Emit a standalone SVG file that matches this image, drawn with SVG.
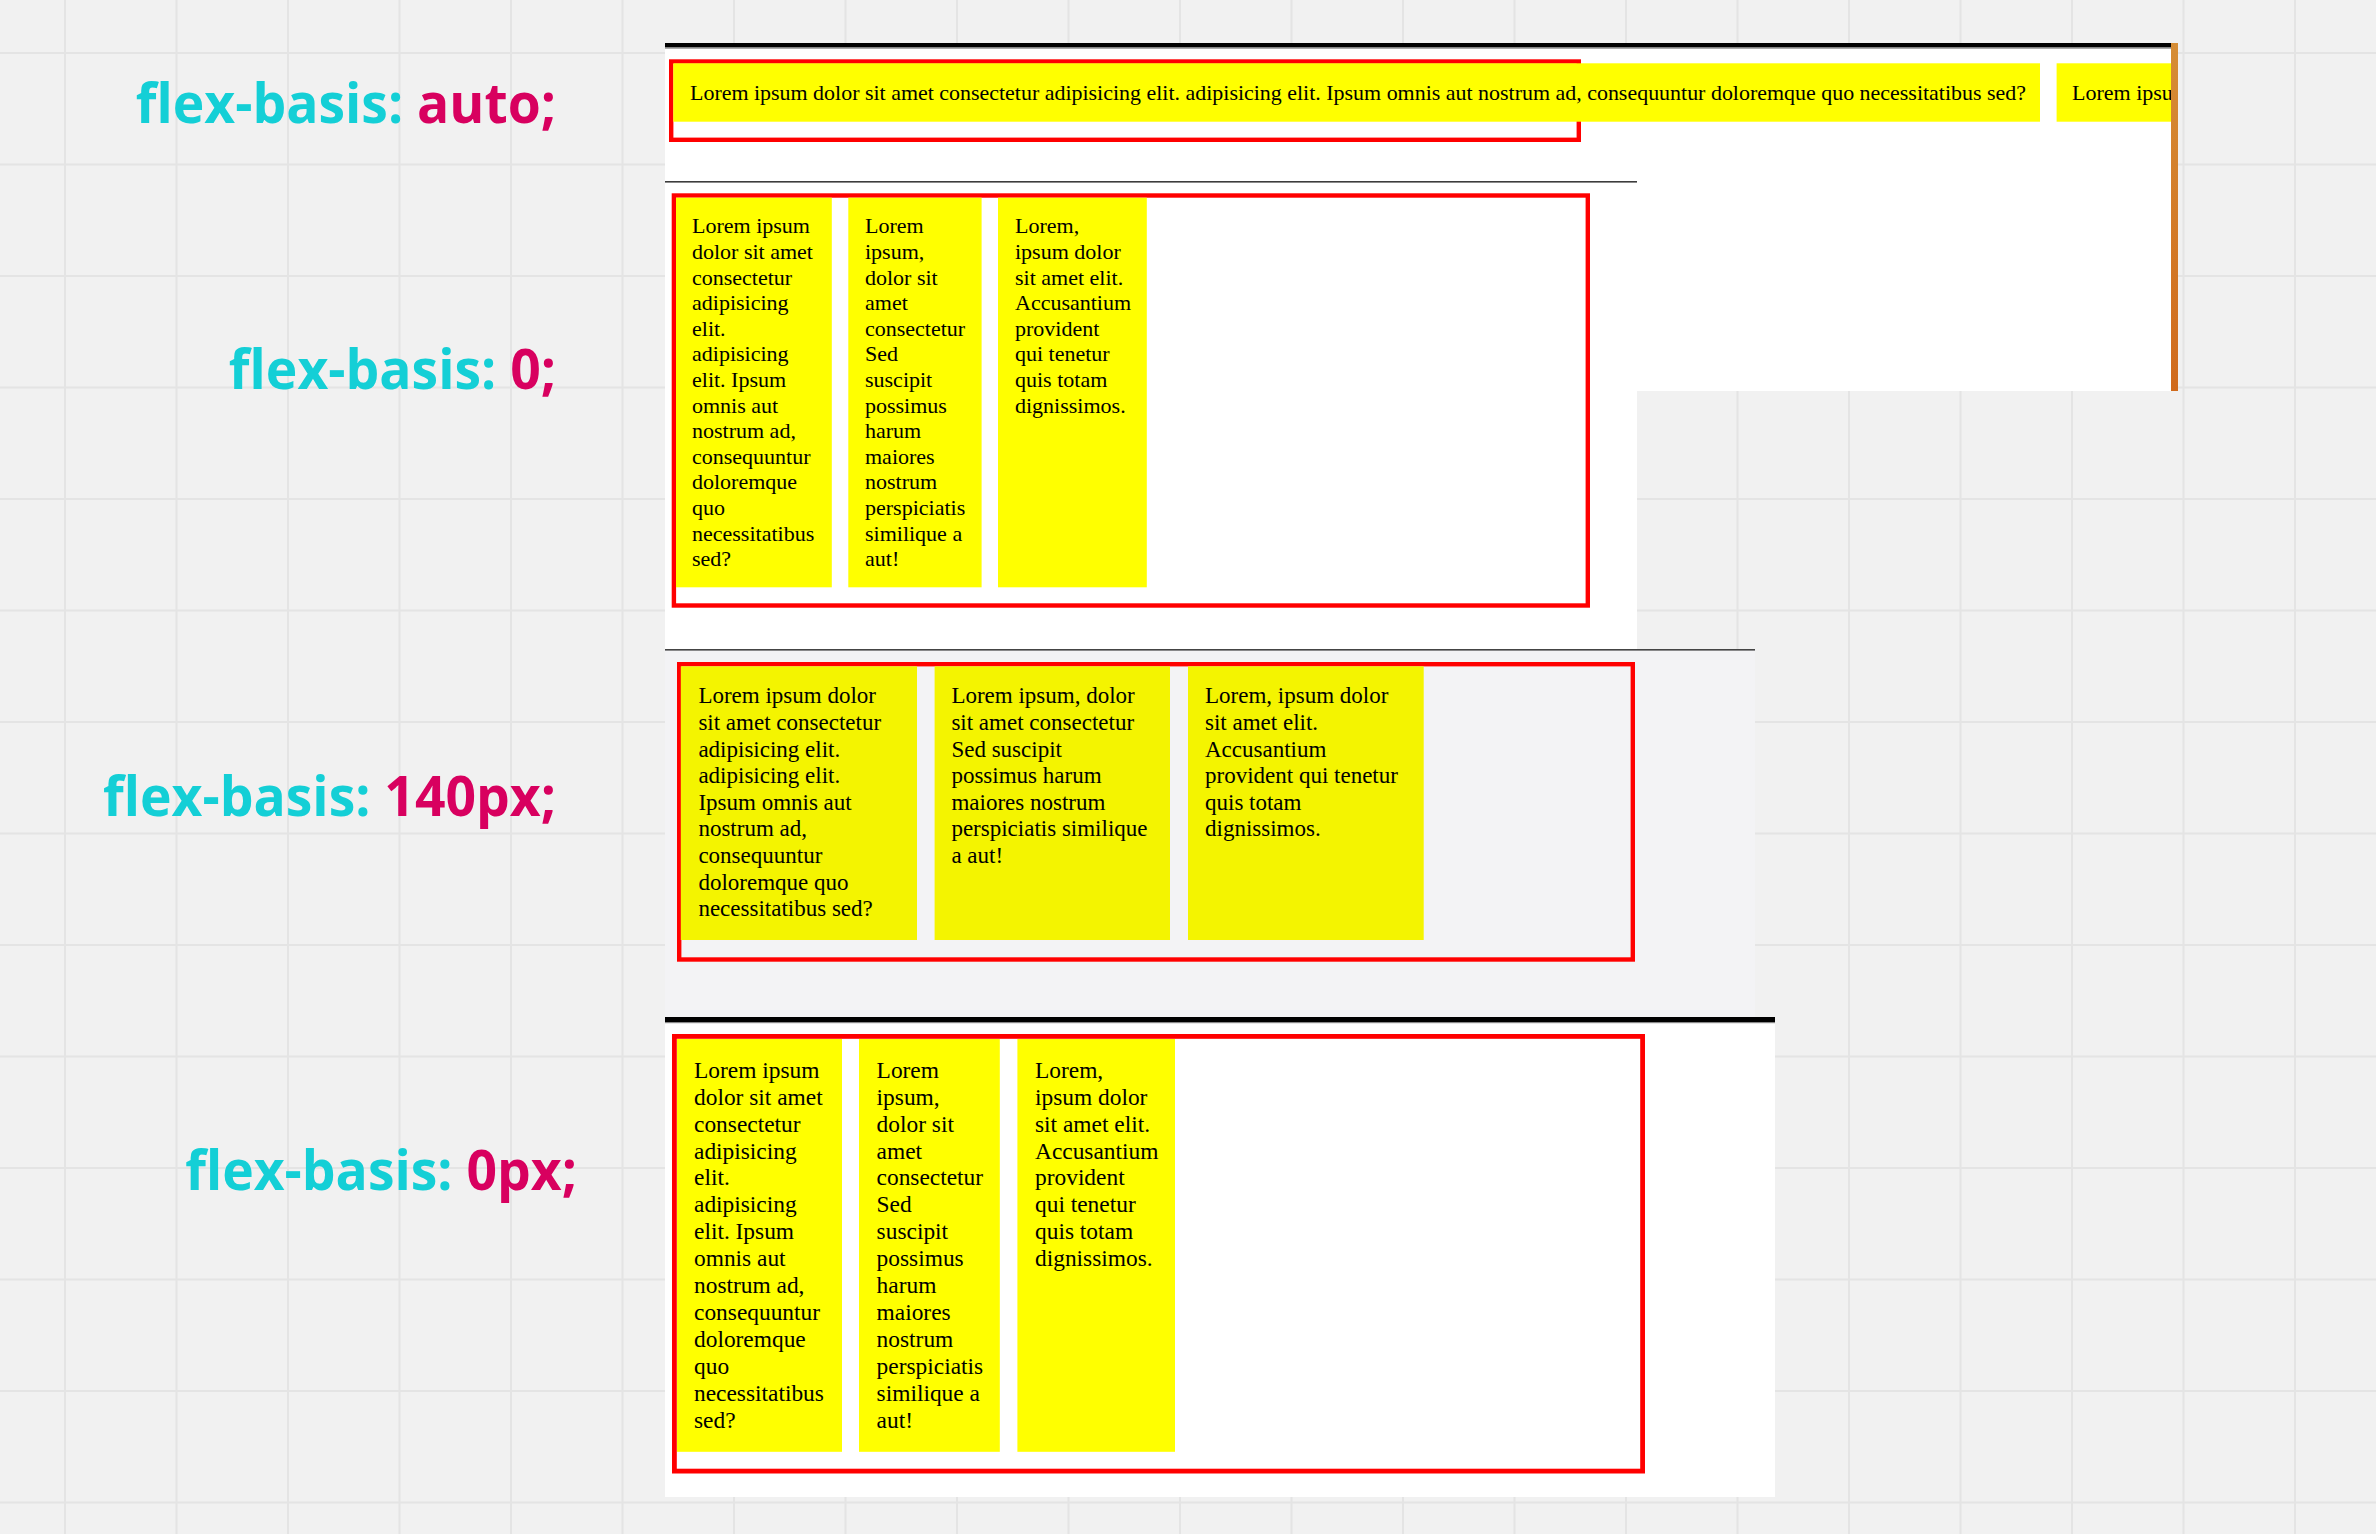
<svg xmlns="http://www.w3.org/2000/svg" width="2376" height="1534" viewBox="0 0 2376 1534">
<style>
.lbl{font-family:"Open Sans","Noto Sans",sans-serif;font-weight:700;font-size:55px}
.k{fill:#14cfd6}
.v{fill:#d8005f}
.red{fill:none;stroke:#ff0000;stroke-width:4.4}
.yel{fill:#ffff00}
.yel2{fill:#f4f400}
.t{font-family:"Liberation Serif","Times New Roman",serif;fill:#000}
.gl{stroke:#e4e4e4;stroke-width:2;fill:none}
</style>
<defs>
<clipPath id="clipA"><rect x="665" y="43" width="1506" height="348"/></clipPath>
<linearGradient id="orange" x1="0" y1="0" x2="0" y2="1">
<stop offset="0" stop-color="#d68d35"/>
<stop offset="1" stop-color="#d06a1c"/>
</linearGradient>
</defs>
<rect width="2376" height="1534" fill="#f1f1f1"/>
<path class="gl" d="M65 0V1534M176.5 0V1534M288 0V1534M399.5 0V1534M511 0V1534M622.5 0V1534M734 0V1534M845.5 0V1534M957 0V1534M1068.5 0V1534M1180 0V1534M1291.5 0V1534M1403 0V1534M1514.5 0V1534M1626 0V1534M1737.5 0V1534M1849 0V1534M1960.5 0V1534M2072 0V1534M2183.5 0V1534M2295 0V1534M0 53H2376M0 164.5H2376M0 276H2376M0 387.5H2376M0 499H2376M0 610.5H2376M0 722H2376M0 833.5H2376M0 945H2376M0 1056.5H2376M0 1168H2376M0 1279.5H2376M0 1391H2376M0 1502.5H2376"/>

<g id="label-auto" transform="translate(556,123) scale(0.972,1)"><text class="lbl" x="0" y="0" text-anchor="end"><tspan class="k">flex-basis:</tspan> <tspan class="v">auto;</tspan></text></g>
<g id="label-0" transform="translate(556,389) scale(0.972,1)"><text class="lbl" x="0" y="0" text-anchor="end"><tspan class="k">flex-basis:</tspan> <tspan class="v">0;</tspan></text></g>
<g id="label-140px" transform="translate(556,816) scale(0.972,1)"><text class="lbl" x="0" y="0" text-anchor="end"><tspan class="k">flex-basis:</tspan> <tspan class="v">140px;</tspan></text></g>
<g id="label-0px" transform="translate(577,1190) scale(0.972,1)"><text class="lbl" x="0" y="0" text-anchor="end"><tspan class="k">flex-basis:</tspan> <tspan class="v">0px;</tspan></text></g>

<g id="panel-auto">
<rect x="665" y="43" width="1506" height="348" fill="#ffffff"/>
<rect x="665" y="43" width="1506" height="4.5" fill="#000"/>
<rect x="665" y="47.5" width="1506" height="1.2" fill="#888"/>
<rect x="2171" y="43" width="7" height="348" fill="url(#orange)"/>
<rect class="red" x="671.2" y="61.5" width="907.6" height="78.3"/>
<g clip-path="url(#clipA)">
<rect class="yel" x="673.3" y="63.3" width="1366.7" height="58.4"/>
<rect class="yel" x="2056.6" y="63.3" width="120" height="58.4"/>
<text class="t" font-size="22" x="690" y="100" textLength="1336" lengthAdjust="spacingAndGlyphs">Lorem ipsum dolor sit amet consectetur adipisicing elit. adipisicing elit. Ipsum omnis aut nostrum ad, consequuntur doloremque quo necessitatibus sed?</text>
<text class="t" font-size="22" x="2072" y="100">Lorem ipsu</text>
</g>
</g>

<g id="panel-0">
<rect x="665" y="181" width="972" height="468" fill="#ffffff"/>
<rect x="665" y="181" width="972" height="1.6" fill="#3c3c3c"/>
<rect class="red" x="673.9" y="195.5" width="913.9" height="410"/>
<rect class="yel" x="676" y="197.7" width="155.8" height="389.6"/>
<rect class="yel" x="848.3" y="197.7" width="133.3" height="389.6"/>
<rect class="yel" x="998" y="197.7" width="148.8" height="389.6"/>
<text class="t" font-size="22" x="692" y="233.3"><tspan x="692">Lorem ipsum</tspan><tspan x="692" dy="25.6">dolor sit amet</tspan><tspan x="692" dy="25.6">consectetur</tspan><tspan x="692" dy="25.6">adipisicing</tspan><tspan x="692" dy="25.6">elit.</tspan><tspan x="692" dy="25.6">adipisicing</tspan><tspan x="692" dy="25.6">elit. Ipsum</tspan><tspan x="692" dy="25.6">omnis aut</tspan><tspan x="692" dy="25.6">nostrum ad,</tspan><tspan x="692" dy="25.6">consequuntur</tspan><tspan x="692" dy="25.6">doloremque</tspan><tspan x="692" dy="25.6">quo</tspan><tspan x="692" dy="25.6">necessitatibus</tspan><tspan x="692" dy="25.6">sed?</tspan></text>
<text class="t" font-size="22" x="865" y="233.3"><tspan x="865">Lorem</tspan><tspan x="865" dy="25.6">ipsum,</tspan><tspan x="865" dy="25.6">dolor sit</tspan><tspan x="865" dy="25.6">amet</tspan><tspan x="865" dy="25.6">consectetur</tspan><tspan x="865" dy="25.6">Sed</tspan><tspan x="865" dy="25.6">suscipit</tspan><tspan x="865" dy="25.6">possimus</tspan><tspan x="865" dy="25.6">harum</tspan><tspan x="865" dy="25.6">maiores</tspan><tspan x="865" dy="25.6">nostrum</tspan><tspan x="865" dy="25.6">perspiciatis</tspan><tspan x="865" dy="25.6">similique a</tspan><tspan x="865" dy="25.6">aut!</tspan></text>
<text class="t" font-size="22" x="1015" y="233.3"><tspan x="1015">Lorem,</tspan><tspan x="1015" dy="25.6">ipsum dolor</tspan><tspan x="1015" dy="25.6">sit amet elit.</tspan><tspan x="1015" dy="25.6">Accusantium</tspan><tspan x="1015" dy="25.6">provident</tspan><tspan x="1015" dy="25.6">qui tenetur</tspan><tspan x="1015" dy="25.6">quis totam</tspan><tspan x="1015" dy="25.6">dignissimos.</tspan></text>
</g>

<g id="panel-140px">
<rect x="665" y="649" width="1090" height="368" fill="#f3f3f5"/>
<rect x="665" y="649" width="1090" height="1.6" fill="#444"/>
<rect class="red" x="679.2" y="664.2" width="953.6" height="295.3"/>
<rect class="yel2" x="680.8" y="666.3" width="236.2" height="273.7"/>
<rect class="yel2" x="934.6" y="666.3" width="235.4" height="273.7"/>
<rect class="yel2" x="1188" y="666.3" width="235.7" height="273.7"/>
<text class="t" font-size="23" x="698.4" y="703.3"><tspan x="698.4">Lorem ipsum dolor</tspan><tspan x="698.4" dy="26.6">sit amet consectetur</tspan><tspan x="698.4" dy="26.6">adipisicing elit.</tspan><tspan x="698.4" dy="26.6">adipisicing elit.</tspan><tspan x="698.4" dy="26.6">Ipsum omnis aut</tspan><tspan x="698.4" dy="26.6">nostrum ad,</tspan><tspan x="698.4" dy="26.6">consequuntur</tspan><tspan x="698.4" dy="26.6">doloremque quo</tspan><tspan x="698.4" dy="26.6">necessitatibus sed?</tspan></text>
<text class="t" font-size="23" x="951.4" y="703.3"><tspan x="951.4">Lorem ipsum, dolor</tspan><tspan x="951.4" dy="26.6">sit amet consectetur</tspan><tspan x="951.4" dy="26.6">Sed suscipit</tspan><tspan x="951.4" dy="26.6">possimus harum</tspan><tspan x="951.4" dy="26.6">maiores nostrum</tspan><tspan x="951.4" dy="26.6">perspiciatis similique</tspan><tspan x="951.4" dy="26.6">a aut!</tspan></text>
<text class="t" font-size="23" x="1205" y="703.3"><tspan x="1205">Lorem, ipsum dolor</tspan><tspan x="1205" dy="26.6">sit amet elit.</tspan><tspan x="1205" dy="26.6">Accusantium</tspan><tspan x="1205" dy="26.6">provident qui tenetur</tspan><tspan x="1205" dy="26.6">quis totam</tspan><tspan x="1205" dy="26.6">dignissimos.</tspan></text>
</g>

<g id="panel-0px">
<rect x="665" y="1017" width="1110" height="480" fill="#ffffff"/>
<rect x="665" y="1017" width="1110" height="5" fill="#000"/>
<rect x="665" y="1022" width="1110" height="1.2" fill="#888"/>
<rect class="red" x="674.4" y="1036.4" width="968.2" height="434.7" style="stroke-width:4.8"/>
<rect class="yel" x="677" y="1039" width="165" height="412.8"/>
<rect class="yel" x="859" y="1039" width="140.8" height="412.8"/>
<rect class="yel" x="1017.4" y="1039" width="157.6" height="412.8"/>
<text class="t" font-size="23.4" x="694" y="1077.8"><tspan x="694">Lorem ipsum</tspan><tspan x="694" dy="26.9">dolor sit amet</tspan><tspan x="694" dy="26.9">consectetur</tspan><tspan x="694" dy="26.9">adipisicing</tspan><tspan x="694" dy="26.9">elit.</tspan><tspan x="694" dy="26.9">adipisicing</tspan><tspan x="694" dy="26.9">elit. Ipsum</tspan><tspan x="694" dy="26.9">omnis aut</tspan><tspan x="694" dy="26.9">nostrum ad,</tspan><tspan x="694" dy="26.9">consequuntur</tspan><tspan x="694" dy="26.9">doloremque</tspan><tspan x="694" dy="26.9">quo</tspan><tspan x="694" dy="26.9">necessitatibus</tspan><tspan x="694" dy="26.9">sed?</tspan></text>
<text class="t" font-size="23.4" x="876.6" y="1077.8"><tspan x="876.6">Lorem</tspan><tspan x="876.6" dy="26.9">ipsum,</tspan><tspan x="876.6" dy="26.9">dolor sit</tspan><tspan x="876.6" dy="26.9">amet</tspan><tspan x="876.6" dy="26.9">consectetur</tspan><tspan x="876.6" dy="26.9">Sed</tspan><tspan x="876.6" dy="26.9">suscipit</tspan><tspan x="876.6" dy="26.9">possimus</tspan><tspan x="876.6" dy="26.9">harum</tspan><tspan x="876.6" dy="26.9">maiores</tspan><tspan x="876.6" dy="26.9">nostrum</tspan><tspan x="876.6" dy="26.9">perspiciatis</tspan><tspan x="876.6" dy="26.9">similique a</tspan><tspan x="876.6" dy="26.9">aut!</tspan></text>
<text class="t" font-size="23.4" x="1035" y="1077.8"><tspan x="1035">Lorem,</tspan><tspan x="1035" dy="26.9">ipsum dolor</tspan><tspan x="1035" dy="26.9">sit amet elit.</tspan><tspan x="1035" dy="26.9">Accusantium</tspan><tspan x="1035" dy="26.9">provident</tspan><tspan x="1035" dy="26.9">qui tenetur</tspan><tspan x="1035" dy="26.9">quis totam</tspan><tspan x="1035" dy="26.9">dignissimos.</tspan></text>
</g>

<g id="connectors"/>
</svg>
